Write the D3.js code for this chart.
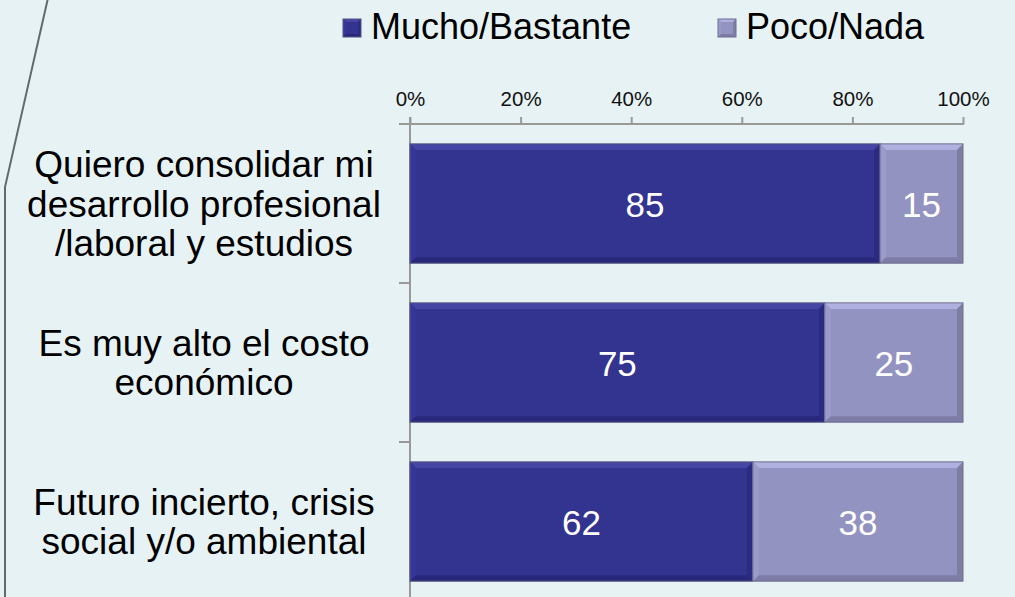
<!DOCTYPE html>
<html>
<head>
<meta charset="utf-8">
<script src="https://cdn.jsdelivr.net/npm/d3@7"></script>
<style>
  html, body { margin: 0; padding: 0; background: #e7f2f4; }
  svg { display: block; }
</style>
</head>
<body>
<svg id="chart" width="1015" height="597"></svg>
<script>
const categories = [
  ['Quiero consolidar mi', 'desarrollo profesional', '/laboral y estudios'],
  ['Es muy alto el costo', 'económico'],
  ['Futuro incierto, crisis', 'social y/o ambiental']
];
const mucho = [85, 75, 62];
const poco = [15, 25, 38];
const seriesNames = ['Mucho/Bastante', 'Poco/Nada'];
const tickValues = [0, 20, 40, 60, 80, 100];

const palette = [
  { base: '#333390', top: '#4545a6', left: '#36369a', bottom: '#28287a', right: '#2b2b82', edge: '#55557c' },
  { base: '#9393c1', top: '#b0b0e0', left: '#9a9acb', bottom: '#7c7ca6', right: '#7e7ea2', edge: '#6e6e8e' }
];

const svg = d3.select('#chart');
const W = 1015, H = 597;

svg.append('rect').attr('width', W).attr('height', H).attr('fill', '#e7f2f4');

// slanted frame line on the left
svg.append('path')
  .attr('d', 'M48,-2 L5,187 L5,600')
  .attr('fill', 'none')
  .attr('stroke', '#5d6d6e')
  .attr('stroke-width', 2);

const x = d3.scaleLinear().domain([0, 100]).range([410, 963]);
const y = d3.scaleBand().domain(d3.range(categories.length)).range([124, 601])
  .paddingInner(0.25).paddingOuter(0.125);

// bevelled rectangle
function bevelRect(g, x0, y0, w, h, c, b) {
  const x1 = x0 + w, y1 = y0 + h;
  g.append('rect').attr('x', x0).attr('y', y0).attr('width', w).attr('height', h).attr('fill', c.base);
  const poly = (pts, fill) => g.append('polygon').attr('points', pts.map(p => p.join(',')).join(' ')).attr('fill', fill);
  poly([[x0, y0], [x1, y0], [x1 - b, y0 + b], [x0 + b, y0 + b]], c.top);
  poly([[x0, y0], [x0 + b, y0 + b], [x0 + b, y1 - b], [x0, y1]], c.left);
  poly([[x0, y1], [x0 + b, y1 - b], [x1 - b, y1 - b], [x1, y1]], c.bottom);
  poly([[x1, y0], [x1, y1], [x1 - b, y1 - b], [x1 - b, y0 + b]], c.right);
  g.append('rect').attr('x', x0).attr('y', y0).attr('width', w).attr('height', h)
    .attr('fill', 'none').attr('stroke', c.edge).attr('stroke-width', 1);
}

// legend
const legend = svg.append('g');
const legendX = [343, 718];
seriesNames.forEach((name, i) => {
  bevelRect(legend.append('g'), legendX[i], 19, 18, 18, palette[i], 3);
  legend.append('text')
    .attr('x', legendX[i] + 28).attr('y', 39)
    .attr('font-family', 'Liberation Sans, Arial, sans-serif')
    .attr('font-size', 36)
    .attr('fill', '#000')
    .text(name);
});

// top axis
const axisColor = '#999';
const xAxis = svg.append('g')
  .attr('transform', 'translate(0,124)')
  .call(d3.axisTop(x).tickValues(tickValues).tickFormat(d => d + '%').tickSize(7).tickPadding(11));
xAxis.select('.domain').attr('stroke', axisColor).attr('stroke-width', 2).attr('d', 'M399,0H964');
xAxis.selectAll('.tick line').attr('stroke', axisColor).attr('stroke-width', 2);
xAxis.selectAll('.tick text')
  .attr('font-family', 'Liberation Sans, Arial, sans-serif')
  .attr('font-size', 20.5)
  .attr('fill', '#111');

// vertical category axis
svg.append('line')
  .attr('x1', x(0)).attr('x2', x(0)).attr('y1', 117).attr('y2', H)
  .attr('stroke', axisColor).attr('stroke-width', 2);
const step = y.step();
d3.range(1, categories.length).forEach(i => {
  const ty = y(i) - y.paddingInner() * step / 2;
  svg.append('line')
    .attr('x1', x(0) - 11).attr('x2', x(0)).attr('y1', ty).attr('y2', ty)
    .attr('stroke', axisColor).attr('stroke-width', 2);
});

// bars
const bars = svg.append('g');
categories.forEach((cat, i) => {
  const segs = [[0, mucho[i]], [mucho[i], mucho[i] + poco[i]]];
  segs.forEach((s, j) => {
    const x0 = x(s[0]), x1 = x(s[1]);
    bevelRect(bars.append('g'), x0, y(i), x1 - x0, y.bandwidth(), palette[j], 6);
    bars.append('text')
      .attr('x', (x0 + x1) / 2)
      .attr('y', y(i) + y.bandwidth() / 2 + 13)
      .attr('text-anchor', 'middle')
      .attr('font-family', 'Liberation Sans, Arial, sans-serif')
      .attr('font-size', 35)
      .attr('fill', '#fff')
      .text(j === 0 ? mucho[i] : poco[i]);
  });
});

// category labels
const labels = svg.append('g');
categories.forEach((lines, i) => {
  const lh = 39.5;
  const cy = y(i) + y.bandwidth() / 2;
  const first = cy - (lines.length - 1) * lh / 2 + 13;
  const t = labels.append('text')
    .attr('text-anchor', 'middle')
    .attr('font-family', 'Liberation Sans, Arial, sans-serif')
    .attr('font-size', 37)
    .attr('fill', '#000');
  lines.forEach((ln, k) => {
    t.append('tspan').attr('x', 204).attr('y', first + k * lh).text(ln);
  });
});
</script>
</body>
</html>
